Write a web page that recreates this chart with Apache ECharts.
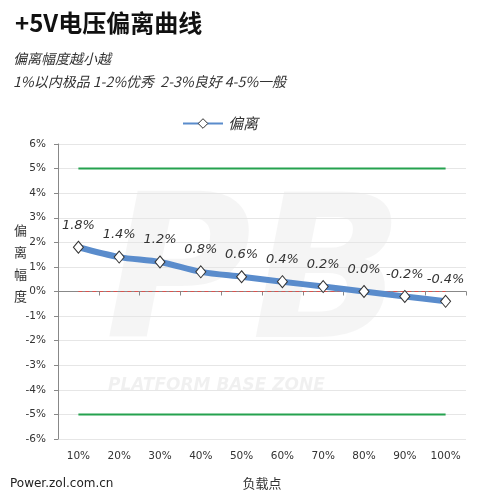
<!DOCTYPE html>
<html><head><meta charset="utf-8">
<script src="https://cdn.jsdelivr.net/npm/echarts@6/dist/echarts.min.js"></script>
<style>html,body{margin:0;padding:0;background:#fff}#c{width:500px;height:502px}</style>
</head><body><div id="c"></div>
<script>
var categories = ['10%','20%','30%','40%','50%','60%','70%','80%','90%','100%'];
var deviation = [1.8, 1.4, 1.2, 0.8, 0.6, 0.4, 0.2, 0.0, -0.2, -0.4];
var upperLimit = [5, 5, 5, 5, 5, 5, 5, 5, 5, 5];
var lowerLimit = [-5, -5, -5, -5, -5, -5, -5, -5, -5, -5];
var zeroLine = [0, 0, 0, 0, 0, 0, 0, 0, 0, 0];

var FONT = '"DejaVu Sans","Noto Sans CJK SC",sans-serif';
var CJK = '"Noto Sans CJK SC",sans-serif';
var chart = echarts.init(document.getElementById('c'), null, {renderer:'canvas'});
chart.setOption({
  backgroundColor:'#fff',
  animation:false,
  title:[
    {text:'+5V电压偏离曲线', left:10, top:6, textStyle:{fontFamily:CJK, fontSize:24, fontWeight:'bold', color:'#111'}},
    {text:'偏离幅度越小越', left:8, top:47, textStyle:{fontFamily:CJK, fontSize:14, fontStyle:'italic', fontWeight:'normal', color:'#333'}},
    {text:'1%以内极品 1-2%优秀  2-3%良好 4-5%一般', left:8, top:70, textStyle:{fontFamily:CJK, fontSize:14, fontStyle:'italic', fontWeight:'normal', color:'#333'}}
  ],
  graphic:[
    {type:'text', left:10, top:478, style:{text:'Power.zol.com.cn', font:'12px "DejaVu Sans",sans-serif', fill:'#222'}},
    {type:'text', left:14, top:219, style:{text:'偏\n离\n幅\n度', font:'13px "Noto Sans CJK SC",sans-serif', lineHeight:22, fill:'#333'}},
    {type:'text', left:105, top:185, z:-1, style:{text:'PB', font:'bold italic 200px "DejaVu Sans",sans-serif', fill:'rgba(0,0,0,0.04)'}},
    {type:'text', left:108, top:377, z:-1, style:{text:'PLATFORM BASE ZONE', font:'bold italic 17px "DejaVu Sans",sans-serif', fill:'rgba(0,0,0,0.06)'}}
  ],
  legend:{
    data:['偏离'],
    top:111, left:177, itemWidth:40, itemHeight:12,
    itemStyle:{color:'#fff', borderColor:'#333', borderWidth:1},
    textStyle:{fontFamily:CJK, fontSize:15, fontStyle:'italic', color:'#333'}
  },
  grid:{left:58, right:34, top:144, bottom:63},
  xAxis:{
    type:'category', data:categories, boundaryGap:true,
    name:'负载点', nameLocation:'middle', nameGap:38,
    nameTextStyle:{fontFamily:CJK, fontSize:13, color:'#333'},
    axisLine:{lineStyle:{color:'#888'}},
    axisTick:{show:true, lineStyle:{color:'#888'}, length:4},
    axisLabel:{fontFamily:FONT, fontSize:10.5, color:'#333', margin:12, interval:0}
  },
  yAxis:{
    type:'value', min:-6, max:6, interval:1,
    axisLine:{show:true, lineStyle:{color:'#888'}},
    axisTick:{show:true, length:4, lineStyle:{color:'#888'}},
    axisLabel:{fontFamily:FONT, fontSize:10.5, color:'#333', margin:12, formatter:'{value}%'},
    splitLine:{lineStyle:{color:'#e6e6e6'}}
  },
  series:[
    {name:'上限', type:'line', data:upperLimit, symbol:'none', lineStyle:{color:'#25a24f', width:2}, silent:true, z:1},
    {name:'下限', type:'line', data:lowerLimit, symbol:'none', lineStyle:{color:'#25a24f', width:2}, silent:true, z:1},
    {name:'零线', type:'line', data:zeroLine, symbol:'none', lineStyle:{color:'#d9534f', width:1, type:[4,3]}, silent:true, z:1},
    {name:'偏离', type:'line', data:deviation, smooth:0.3,
     symbol:'diamond', symbolSize:[10,12],
     itemStyle:{color:'#fff', borderColor:'#333', borderWidth:1},
     lineStyle:{color:'#5a8ccc', width:6},
     label:{show:true, position:'top', distance:9, fontFamily:FONT, fontSize:13, fontStyle:'italic', color:'#333',
            formatter:function(p){return p.value.toFixed(1)+'%';}},
     z:3}
  ]
});
</script></body></html>
